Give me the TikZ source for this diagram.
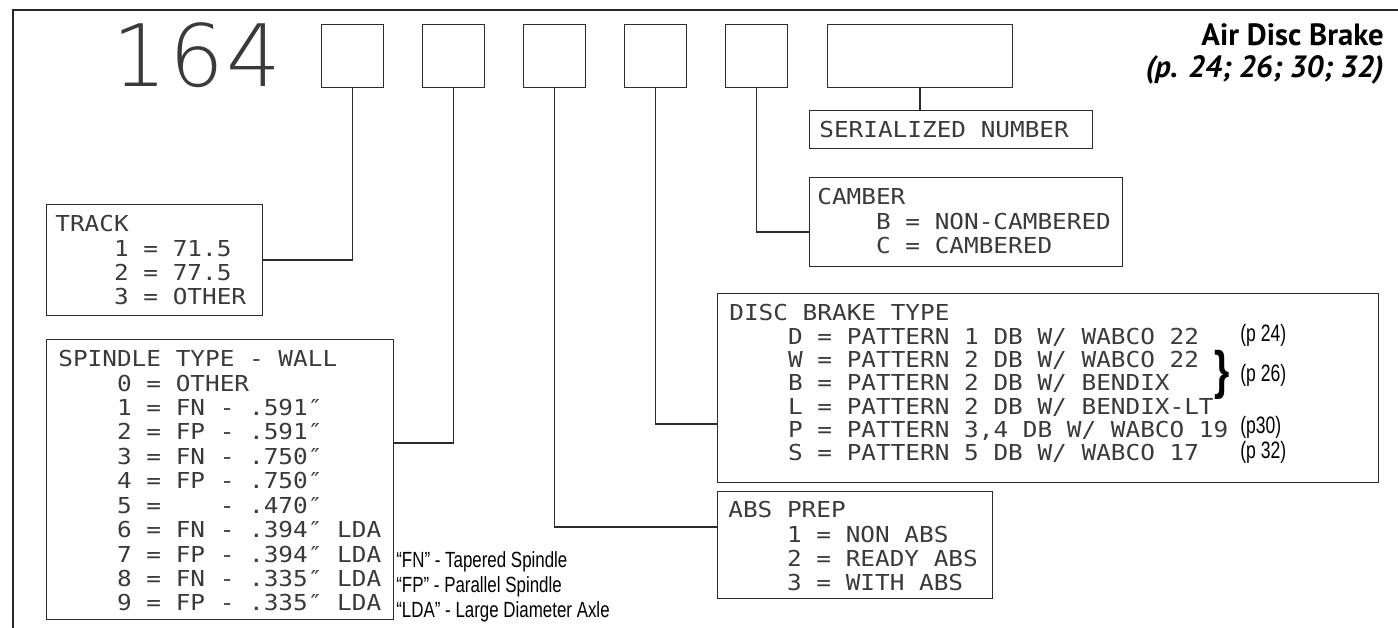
\documentclass[tikz,border=0pt]{standalone}
\usepackage{fontspec}
\usepackage{tikz}
\usetikzlibrary{positioning}
\IfFontExistsTF{DejaVu Sans ExtraLight}
  {\newfontfamily\digitfont{DejaVu Sans ExtraLight}[LetterSpace=3]}
  {\newfontfamily\digitfont{DejaVu Sans Mono}[FakeStretch=1.1]}
\newfontfamily\cadfont{DejaVu Sans Mono}[FakeStretch=1.11]
\newfontfamily\titlefont{PT Sans}
\newfontfamily\notefont{Liberation Sans}[FakeStretch=0.77]
\newfontfamily\reffont{Liberation Sans}[FakeStretch=0.74]
\definecolor{lineCol}{HTML}{2B2B2B}
\definecolor{txtCol}{HTML}{3A3A3A}
\newcommand{\lead}{\phantom{0000}}
\tikzset{
  frame/.style={line width=1.7pt, black!85},
  digitbox/.style={draw=lineCol, line width=0.8pt, anchor=north west, inner sep=0pt,
                   minimum width=1.24cm, minimum height=1.26cm},
  infobox/.style={draw=lineCol, line width=0.8pt, anchor=north west, inner sep=0pt},
  infotxt/.style={inner sep=0pt, align=left, text=txtCol,
                  font=\cadfont\fontsize{12.5}{13.9}\selectfont},
  link/.style={draw=lineCol, line width=0.8pt},
  pageref/.style={anchor=west, inner sep=0pt, font=\reffont\fontsize{13.5}{15}\selectfont},
  fnote/.style={anchor=west, inner sep=0pt, font=\notefont\fontsize{12.5}{14}\selectfont},
}
\begin{document}
\begin{tikzpicture}[x=0.02cm, y=-0.02cm]
  \useasboundingbox (0,0) rectangle (1398,628);
  \draw[frame] (13,628) -- (13,10) -- (1398,10);

  % part number
  \node[font=\digitfont\fontsize{49}{50}\selectfont, anchor=base west, inner sep=0pt,
        text=txtCol] (prefix) at (112,87) {164};
  \foreach \i [evaluate=\i as \xx using 321+101*(\i-1)] in {1,...,5}
    {\node[digitbox] (code\i) at (\xx,24) {};}
  \node[digitbox, minimum width=3.7cm] (code6) at (827,24) {};

  \node[anchor=base east, inner sep=0pt, font=\titlefont\bfseries\fontsize{17.5}{20}\selectfont]
    (title) at (1384,46) {Air Disc Brake};
  \node[anchor=base east, inner sep=0pt,
        font=\titlefont\bfseries\itshape\fontsize{17.5}{20}\selectfont]
    (pages) at (1384,78) {(p. 24; 26; 30; 32)};

  % option boxes
  \node[infobox, minimum width=5.66cm, minimum height=0.76cm] (serial) at (809,110) {};
  \node[infotxt, below right=0.22cm and 0.2cm of serial.north west] (serialT) {SERIALIZED NUMBER};

  \node[infobox, minimum width=6.26cm, minimum height=1.78cm] (camber) at (809,177) {};
  \node[infotxt, below right=0.22cm and 0.16cm of camber.north west] (camberT)
    {CAMBER\\\lead B = NON-CAMBERED\\\lead C = CAMBERED};

  \node[infobox, minimum width=4.32cm, minimum height=2.22cm] (track) at (46,204) {};
  \node[infotxt, below right=0.22cm and 0.18cm of track.north west] (trackT)
    {TRACK\\\lead 1 = 71.5\\\lead 2 = 77.5\\\lead 3 = OTHER};

  \node[infobox, minimum width=6.94cm, minimum height=5.6cm] (spindle) at (46,339) {};
  \node[infotxt, below right=0.22cm and 0.24cm of spindle.north west] (spindleT)
    {SPINDLE TYPE - WALL\\
     \lead 0 = OTHER\\
     \lead 1 = FN - .591″\\
     \lead 2 = FP - .591″\\
     \lead 3 = FN - .750″\\
     \lead 4 = FP - .750″\\
     \lead 5 = \phantom{FN} - .470″\\
     \lead 6 = FN - .394″ LDA\\
     \lead 7 = FP - .394″ LDA\\
     \lead 8 = FN - .335″ LDA\\
     \lead 9 = FP - .335″ LDA};

  \node[infobox, minimum width=13.22cm, minimum height=3.78cm] (disc) at (717,293) {};
  \node[infotxt, font=\cadfont\fontsize{12.5}{13.3}\selectfont,
        below right=0.22cm and 0.24cm of disc.north west] (discT)
    {DISC BRAKE TYPE\\
     \lead D = PATTERN 1 DB W/ WABCO 22\\
     \lead W = PATTERN 2 DB W/ WABCO 22\\
     \lead B = PATTERN 2 DB W/ BENDIX\\
     \lead L = PATTERN 2 DB W/ BENDIX-LT\\
     \lead P = PATTERN 3,4 DB W/ WABCO 19\\
     \lead S = PATTERN 5 DB W/ WABCO 17};

  \node[infobox, minimum width=5.5cm, minimum height=2.14cm] (abs) at (717,491) {};
  \node[infotxt, below right=0.2cm and 0.22cm of abs.north west] (absT)
    {ABS PREP\\\lead 1 = NON ABS\\\lead 2 = READY ABS\\\lead 3 = WITH ABS};

  % page references
  \node[pageref] (ref24) at (1240,335) {(p 24)};
  \node[font=\reffont\bfseries\fontsize{30}{30}\selectfont, inner sep=0pt] (brace) at (1222,375) {\}};
  \node[pageref] (ref26) at (1240,375) {(p 26)};
  \node[pageref] (ref30) at (1240,427) {(p30)};
  \node[pageref] (ref32) at (1240,452) {(p 32)};

  % legend
  \node[fnote] (fnFN) at (396,562) {“FN” - Tapered Spindle};
  \node[fnote] (fnFP) at (396,587) {“FP” - Parallel Spindle};
  \node[fnote] (fnLDA) at (396,612) {“LDA” - Large Diameter Axle};

  % leaders
  \draw[link] (code1.south) |- (track.east);
  \draw[link] (code2.south) |- (spindle.east |- 0,443);
  \draw[link] (code3.south) |- (abs.west |- 0,527);
  \draw[link] (code4.south) |- (disc.west |- 0,424);
  \draw[link] (code5.south) |- (camber.west |- 0,232);
  \draw[link] (code6.south) -- (code6.south |- serial.north);
\end{tikzpicture}
\end{document}
